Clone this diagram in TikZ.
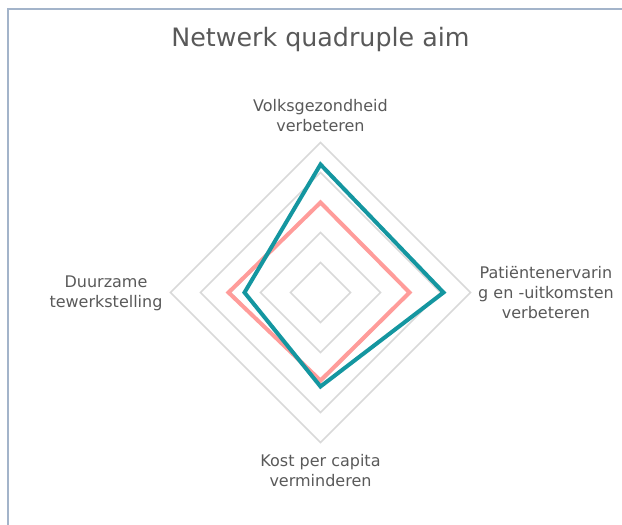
\documentclass[tikz,border=0pt]{standalone}
\usepackage{fontspec}
\setmainfont{DejaVu Sans}
\usepackage{tikz}
\usetikzlibrary{positioning}

\definecolor{FrameBlue}{HTML}{A3B4CA}
\definecolor{RingGrey}{HTML}{D9D9D9}
\definecolor{NetTeal}{HTML}{1496A0}
\definecolor{NetPink}{HTML}{FF9C9A}
\definecolor{LabelGrey}{HTML}{595959}

\tikzset{
	ring/.style={draw=RingGrey, line width=1.1pt},
	serie/.style={line width=3pt, line join=miter},
	axislabel/.style={text=LabelGrey, font=\fontsize{12}{15}\selectfont, align=center, inner sep=0pt},
	charttitle/.style={text=LabelGrey, font=\fontsize{19}{23}\selectfont, inner sep=0pt, anchor=base},
}

\begin{document}
\begin{tikzpicture}[x=0.75pt, y=-0.75pt]
	
	% ------------------------------------------------
	% Size of the graphic, in pixels of the chart
	\useasboundingbox (0,0) rectangle (622,525);
	
	% ------------------------------------------------
	% Relevant coordinates
	\coordinate (FrameCorner) at (7.5,8.5);
	\coordinate (FrameRight) at (622,8.5);
	\coordinate (FrameBottom) at (7.5,525);
	
	\coordinate (Centre) at (320.5,292.5);
	
	\path (Centre) +(0,-128) coordinate (TealTop);
	\path (Centre) +(123,0)  coordinate (TealRight);
	\path (Centre) +(0,94)   coordinate (TealBottom);
	\path (Centre) +(-76,0)  coordinate (TealLeft);
	
	\path (Centre) +(0,-90)  coordinate (PinkTop);
	\path (Centre) +(89,0)   coordinate (PinkRight);
	\path (Centre) +(0,88)   coordinate (PinkBottom);
	\path (Centre) +(-92,0)  coordinate (PinkLeft);
	
	% ----------------
	% Chart frame
	\draw[FrameBlue, line width=1.5pt] (FrameBottom) -- (FrameCorner) -- (FrameRight);
	
	% ----------------
	% Grid rings
	\draw[ring] (Centre) ++(0,-30)  -- ++(30,30)   -- ++(-30,30)   -- ++(-30,-30)   -- cycle;
	\draw[ring] (Centre) ++(0,-60)  -- ++(60,60)   -- ++(-60,60)   -- ++(-60,-60)   -- cycle;
	\draw[ring] (Centre) ++(0,-90)  -- ++(90,90)   -- ++(-90,90)   -- ++(-90,-90)   -- cycle;
	\draw[ring] (Centre) ++(0,-120) -- ++(120,120) -- ++(-120,120) -- ++(-120,-120) -- cycle;
	\draw[ring] (Centre) ++(0,-150) -- ++(150,150) -- ++(-150,150) -- ++(-150,-150) -- cycle;
	
	% ----------------
	% Series
	\draw[serie, NetPink] (PinkTop) -- (PinkRight) -- (PinkBottom) -- (PinkLeft) -- cycle;
	\draw[serie, NetTeal] (TealTop) -- (TealRight) -- (TealBottom) -- (TealLeft) -- cycle;
	
	%%%%%%%%%%%%%%%%%%%%%%%%%%%%%%%%%%%%%%%%%
	% Labels
	\node[charttitle] (Title) at (320.5,46) {Netwerk quadruple aim};
	
	\node[axislabel] (LabelTop)    at (320.5,116) {Volksgezondheid\\verbeteren};
	\node[axislabel] (LabelRight)  at (546,293)   {Patiëntenervarin\\g en -uitkomsten\\verbeteren};
	\node[axislabel] (LabelBottom) at (320.5,471) {Kost per capita\\verminderen};
	\node[axislabel] (LabelLeft)   at (106,293)   {Duurzame\\tewerkstelling};
	
\end{tikzpicture}
\end{document}
